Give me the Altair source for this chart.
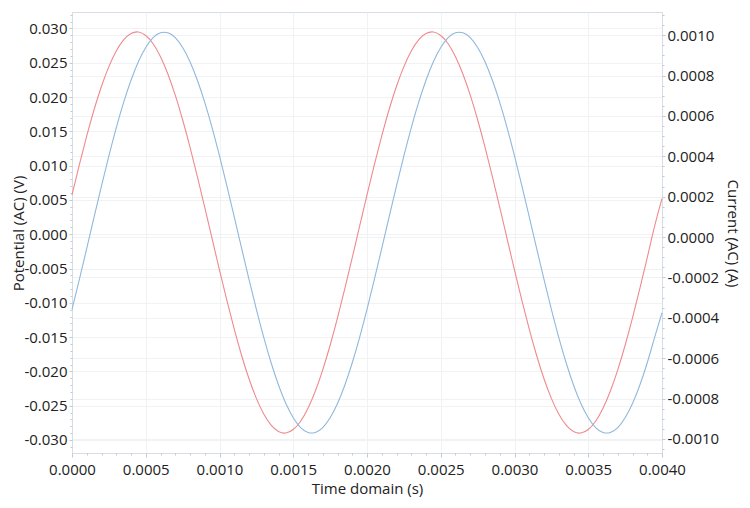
import altair as alt
import pandas as pd

# Time samples (s)
time_s = [round(i * 0.00005, 5) for i in range(81)]

# Potential (AC) (V)
potential_v = [
    0.00573, 0.01016, 0.01434, 0.01818, 0.02157, 0.02444, 0.02672, 0.02834, 0.02927, 0.02949,
    0.02898, 0.02777, 0.02588, 0.02336, 0.02027, 0.01669, 0.01270, 0.00841, 0.00392, -0.00067,
    -0.00523, -0.00966, -0.01384, -0.01768, -0.02107, -0.02394, -0.02622, -0.02784, -0.02877, -0.02899,
    -0.02848, -0.02727, -0.02538, -0.02286, -0.01977, -0.01619, -0.01221, -0.00791, -0.00342, 0.00117,
    0.00573, 0.01016, 0.01434, 0.01818, 0.02157, 0.02444, 0.02672, 0.02834, 0.02927, 0.02949,
    0.02898, 0.02777, 0.02588, 0.02336, 0.02027, 0.01669, 0.01270, 0.00841, 0.00392, -0.00067,
    -0.00523, -0.00966, -0.01384, -0.01768, -0.02107, -0.02394, -0.02622, -0.02784, -0.02877, -0.02899,
    -0.02848, -0.02727, -0.02538, -0.02286, -0.01977, -0.01619, -0.01221, -0.00791, -0.00342, 0.00117,
    0.00520,
]

# Current (AC) (A)
current_a = [
    -0.000358, -0.000210, -0.000056, 0.000100, 0.000254, 0.000402, 0.000541, 0.000667, 0.000777, 0.000869,
    0.000939, 0.000988, 0.001012, 0.001012, 0.000988, 0.000939, 0.000869, 0.000777, 0.000667, 0.000541,
    0.000402, 0.000254, 0.000100, -0.000056, -0.000210, -0.000358, -0.000497, -0.000623, -0.000733, -0.000825,
    -0.000895, -0.000944, -0.000968, -0.000968, -0.000944, -0.000895, -0.000825, -0.000733, -0.000623, -0.000497,
    -0.000358, -0.000210, -0.000056, 0.000100, 0.000254, 0.000402, 0.000541, 0.000667, 0.000777, 0.000869,
    0.000939, 0.000988, 0.001012, 0.001012, 0.000988, 0.000939, 0.000869, 0.000777, 0.000667, 0.000541,
    0.000402, 0.000254, 0.000100, -0.000056, -0.000210, -0.000358, -0.000497, -0.000623, -0.000733, -0.000825,
    -0.000895, -0.000944, -0.000968, -0.000968, -0.000944, -0.000895, -0.000825, -0.000733, -0.000623, -0.000497,
    -0.000375,
]

# Axis ticks
x_ticks = [0.0, 0.0005, 0.0010, 0.0015, 0.0020, 0.0025, 0.0030, 0.0035, 0.0040]
left_ticks = [-0.030, -0.025, -0.020, -0.015, -0.010, -0.005, 0.0, 0.005, 0.010, 0.015, 0.020, 0.025, 0.030]
right_ticks = [-0.0010, -0.0008, -0.0006, -0.0004, -0.0002, 0.0, 0.0002, 0.0004, 0.0006, 0.0008, 0.0010]
x_minor = [round(i * 0.0001, 4) for i in range(41)]
left_minor = [round(-0.031 + i * 0.001, 3) for i in range(64)]
right_minor = [round(-0.00105 + i * 0.00005, 5) for i in range(44)]

df = pd.DataFrame({"t": time_s, "v": potential_v, "i": current_a})

X_DOMAIN = [0.0, 0.004]
L_DOMAIN = [-0.0319, 0.0324]
R_DOMAIN = [-0.00107, 0.001115]

FONT = "Open Sans"
GRID = "#f0f2f4"
AXIS = "#d6dde4"
TICK = "#c3cad2"
TEXT = "#222222"
MINUS = "replace(datum.label, '\u2212', '-')"

xs = alt.Scale(domain=X_DOMAIN, nice=False, zero=False)
ls = alt.Scale(domain=L_DOMAIN, nice=False, zero=False)
rs = alt.Scale(domain=R_DOMAIN, nice=False, zero=False)

x_axis = alt.Axis(
    orient="bottom", values=x_ticks, format=".4f", title="Time domain (s)",
    grid=True, gridColor=GRID, domainColor=AXIS, tickColor=TICK, tickSize=4,
    labelFontSize=15, labelFont=FONT, labelColor=TEXT, labelPadding=5,
    titleFontSize=15, titleFont=FONT, titleColor=TEXT, titleFontWeight="normal",
    titleX=295, titleY=35, titleBaseline="middle", labelFlush=False,
)
left_axis = alt.Axis(
    orient="left", values=left_ticks, format=".3f", labelExpr=MINUS, title="Potential (AC) (V)",
    grid=True, gridColor=GRID, domainColor=AXIS, tickColor=TICK, tickSize=3,
    labelFontSize=15, labelFont=FONT, labelColor=TEXT, labelPadding=2,
    titleFontSize=15, titleFont=FONT, titleColor=TEXT, titleFontWeight="normal",
    titleX=-54, titleY=221, titleAngle=270, titleBaseline="middle", titleAlign="center",
)
right_axis = alt.Axis(
    orient="right", values=right_ticks, format=".4f", labelExpr=MINUS, title="Current (AC) (A)",
    grid=True, gridColor=GRID, domainColor=AXIS, tickColor=TICK, tickSize=3,
    labelFontSize=15, labelFont=FONT, labelColor=TEXT, labelPadding=2,
    titleFontSize=15, titleFont=FONT, titleColor=TEXT, titleFontWeight="normal",
    titleX=70, titleY=221, titleAngle=90, titleBaseline="middle", titleAlign="center",
)

base = alt.Chart(df)

red = base.mark_line(color="#ef8a8e", strokeWidth=1.1, interpolate="natural").encode(
    x=alt.X("t:Q", scale=xs, axis=x_axis),
    y=alt.Y("v:Q", scale=ls, axis=left_axis),
)
blue = base.mark_line(color="#90b8dc", strokeWidth=1.1, interpolate="natural").encode(
    x=alt.X("t:Q", scale=xs, axis=None),
    y=alt.Y("i:Q", scale=rs, axis=right_axis),
)


def minor_axis(orient, vals):
    return alt.Axis(orient=orient, values=vals, labels=False, title=None, grid=False,
                    domain=False, tickColor=TICK, tickSize=2, ticks=True)


x_min = base.mark_point(opacity=0).encode(
    x=alt.X("t:Q", scale=xs, axis=minor_axis("bottom", x_minor)),
    y=alt.Y("v:Q", scale=ls, axis=None),
)
l_min = base.mark_point(opacity=0).encode(
    x=alt.X("t:Q", scale=xs, axis=None),
    y=alt.Y("v:Q", scale=ls, axis=minor_axis("left", left_minor)),
)
r_min = base.mark_point(opacity=0).encode(
    x=alt.X("t:Q", scale=xs, axis=None),
    y=alt.Y("i:Q", scale=rs, axis=minor_axis("right", right_minor)),
)

chart = (
    alt.layer(red, blue, x_min, l_min, r_min)
    .resolve_scale(y="independent")
    .resolve_axis(x="independent", y="independent")
    .properties(
        width=590, height=441, autosize="none",
        padding={"left": 64, "top": 4, "right": 80, "bottom": 50},
        background="white",
    )
    .configure_view(stroke=AXIS, strokeWidth=1)
)

chart.save("out.html", embed_options={"renderer": "svg", "actions": False})
